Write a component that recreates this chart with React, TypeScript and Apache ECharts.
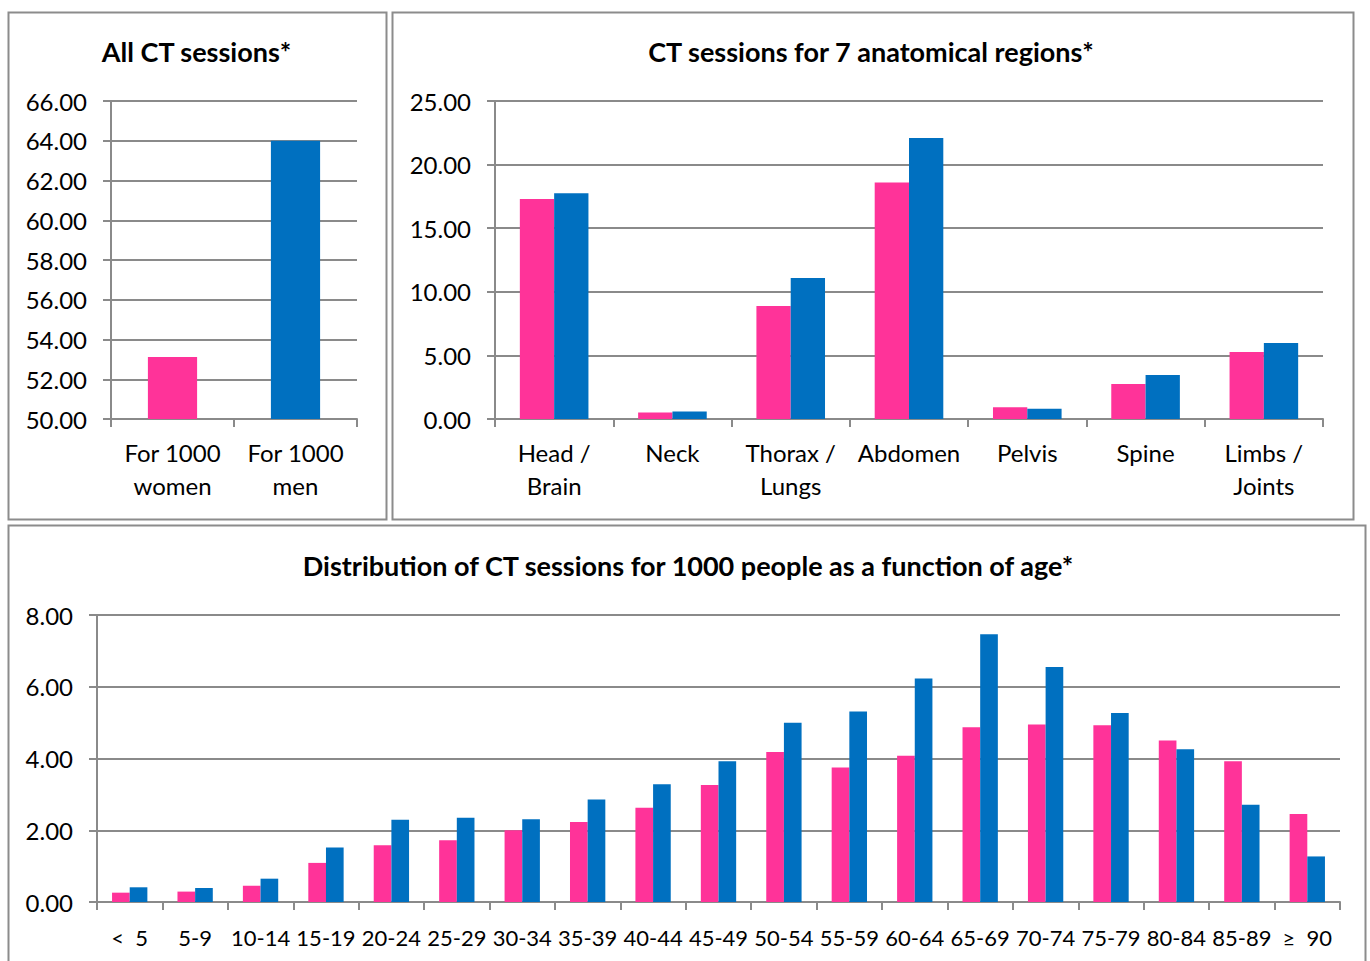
import React, { useEffect, useRef } from "react";
import * as echarts from "echarts";

const PINK = "#FF3399";
const BLUE = "#0070C0";

const allCategories = ["For 1000\nwomen", "For 1000\nmen"];
const allValues = [53.12, 64.0];
const allYTicks = { min: 50, max: 66, interval: 2 };

const regionCategories = ["Head /\nBrain", "Neck", "Thorax /\nLungs", "Abdomen", "Pelvis", "Spine", "Limbs /\nJoints"];
const regionWomen = [17.3, 0.52, 8.88, 18.6, 0.92, 2.75, 5.27];
const regionMen = [17.74, 0.58, 11.08, 22.09, 0.81, 3.46, 5.97];
const regionYTicks = { min: 0, max: 25, interval: 5 };

const ageCategories = ["<  5", "5-9", "10-14", "15-19", "20-24", "25-29", "30-34", "35-39", "40-44", "45-49", "50-54", "55-59", "60-64", "65-69", "70-74", "75-79", "80-84", "85-89", "≥  90"];
const ageWomen = [0.26, 0.29, 0.45, 1.09, 1.58, 1.72, 2.0, 2.23, 2.63, 3.26, 4.18, 3.75, 4.08, 4.87, 4.95, 4.93, 4.5, 3.92, 2.45];
const ageMen = [0.41, 0.39, 0.65, 1.52, 2.29, 2.35, 2.31, 2.86, 3.28, 3.92, 5.0, 5.31, 6.23, 7.46, 6.55, 5.27, 4.26, 2.71, 1.27];
const ageYTicks = { min: 0, max: 8, interval: 2 };

const titles = [
  "All CT sessions*",
  "CT sessions for 7 anatomical regions*",
  "Distribution of CT sessions for 1000 people as a function of age*",
];

const FONT = "Lato, 'Noto Sans', sans-serif";
const AXIS = "#8a8a8a";

function yAxis(gridIndex: number, t: { min: number; max: number; interval: number }) {
  return {
    type: "value",
    gridIndex,
    min: t.min,
    max: t.max,
    interval: t.interval,
    axisLine: { show: true, lineStyle: { color: AXIS, width: 2 } },
    axisTick: { show: true, length: 8, lineStyle: { color: AXIS, width: 2 } },
    splitLine: { show: true, lineStyle: { color: AXIS, width: 2 } },
    axisLabel: {
      formatter: (v: number) => v.toFixed(2),
      color: "#000",
      fontSize: 24,
      fontFamily: FONT,
      margin: 24,
    },
  };
}

function xAxis(gridIndex: number, data: string[], margin: number, fontSize: number) {
  return {
    type: "category",
    gridIndex,
    data,
    boundaryGap: true,
    axisLine: { show: true, lineStyle: { color: AXIS, width: 2 } },
    axisTick: { show: true, length: 8, alignWithLabel: false, interval: 0, lineStyle: { color: AXIS, width: 2 } },
    axisLabel: {
      interval: 0,
      color: "#000",
      fontSize,
      lineHeight: 33,
      fontFamily: FONT,
      margin,
      hideOverlap: false,
    },
    splitLine: { show: false },
  };
}

export default function App() {
  const ref = useRef<HTMLDivElement>(null);
  useEffect(() => {
    if (!ref.current) return;
    const chart = echarts.init(ref.current, undefined, { renderer: "svg" });
    const border = { stroke: "#8c8c8c", lineWidth: 2, fill: "#fff" };
    const titleStyle = { fontSize: 27, fontWeight: "bold", fontFamily: FONT, fill: "#000", textAlign: "center", textVerticalAlign: "middle" };
    chart.setOption({
      animation: false,
      backgroundColor: "#fff",
      graphic: [
        { type: "rect", z: -10, shape: { x: 8.5, y: 12.5, width: 378, height: 507 }, style: border },
        { type: "rect", z: -10, shape: { x: 392.5, y: 12.5, width: 961, height: 507 }, style: border },
        { type: "rect", z: -10, shape: { x: 8.5, y: 525.5, width: 1357, height: 450 }, style: border },
        { type: "text", x: 196.5, y: 51, style: { ...titleStyle, text: titles[0] } },
        { type: "text", x: 871, y: 51, style: { ...titleStyle, text: titles[1] } },
        { type: "text", x: 688, y: 565, style: { ...titleStyle, text: titles[2] } },
      ],
      grid: [
        { left: 111, top: 101, width: 246, height: 318 },
        { left: 495, top: 101, width: 828, height: 318 },
        { left: 97, top: 615, width: 1243, height: 287 },
      ],
      xAxis: [
        xAxis(0, allCategories, 17, 24),
        xAxis(1, regionCategories, 17, 24),
        xAxis(2, ageCategories, 19, 22),
      ],
      yAxis: [yAxis(0, allYTicks), yAxis(1, regionYTicks), yAxis(2, ageYTicks)],
      series: [
        {
          type: "bar",
          xAxisIndex: 0,
          yAxisIndex: 0,
          barCategoryGap: "60%",
          data: allValues.map((v, i) => ({ value: v, itemStyle: { color: i === 0 ? PINK : BLUE } })),
        },
        { type: "bar", xAxisIndex: 1, yAxisIndex: 1, barGap: "0%", barCategoryGap: "42%", itemStyle: { color: PINK }, data: regionWomen },
        { type: "bar", xAxisIndex: 1, yAxisIndex: 1, barGap: "0%", barCategoryGap: "42%", itemStyle: { color: BLUE }, data: regionMen },
        { type: "bar", xAxisIndex: 2, yAxisIndex: 2, barGap: "0%", barCategoryGap: "46%", itemStyle: { color: PINK }, data: ageWomen },
        { type: "bar", xAxisIndex: 2, yAxisIndex: 2, barGap: "0%", barCategoryGap: "46%", itemStyle: { color: BLUE }, data: ageMen },
      ],
    });
    return () => chart.dispose();
  }, []);
  return <div ref={ref} style={{ position: "fixed", left: 0, top: 0, width: 1370, height: 961 }} />;
}
